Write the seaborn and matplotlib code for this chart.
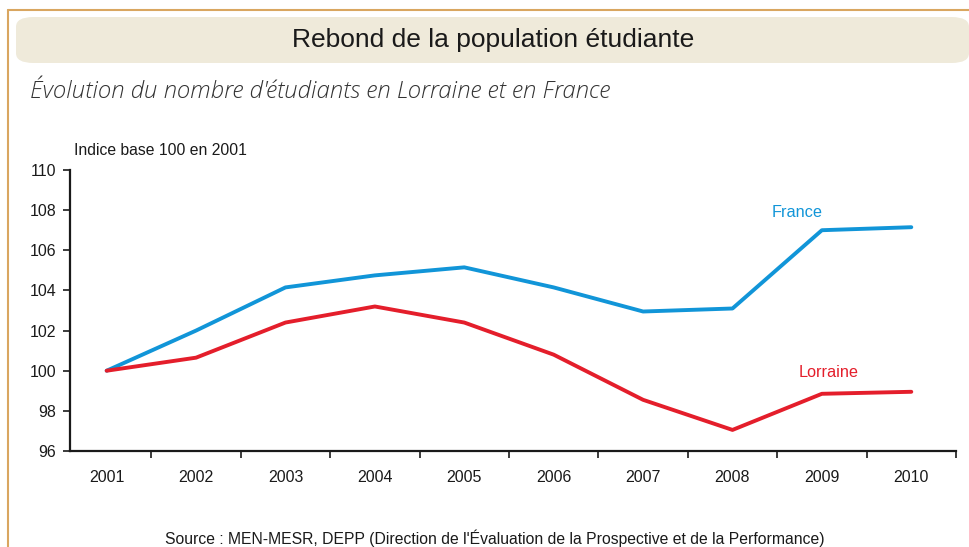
import numpy as np
import pandas as pd
import matplotlib
matplotlib.use("Agg")
import matplotlib.pyplot as plt
import seaborn as sns
from matplotlib.patches import FancyBboxPatch
from matplotlib.ticker import FixedLocator

# --- Data (index base 100 in 2001) ---
years = ["2001", "2002", "2003", "2004", "2005", "2006", "2007", "2008", "2009", "2010"]
france = [100.0, 102.0, 104.15, 104.75, 105.15, 104.15, 102.95, 103.1, 107.0, 107.15]
lorraine = [100.0, 100.65, 102.4, 103.2, 102.4, 100.8, 98.55, 97.05, 98.85, 98.95]
y_ticks = [96, 98, 100, 102, 104, 106, 108, 110]

BLUE = "#1195D8"
RED = "#E41E2B"
TAN = "#D9A660"
BOX = "#EFEADA"

sns.set_style("white")
plt.rcParams["font.family"] = ["Liberation Sans", "DejaVu Sans"]

df = pd.DataFrame({"pos": np.arange(len(years)), "France": france, "Lorraine": lorraine})

fig = plt.figure(figsize=(9.7, 5.47), dpi=100)

# outer frame (top and left lines) and title box
fig.add_artist(plt.Line2D([8.5 / 970, 1.0], [1 - 9.5 / 547] * 2, color=TAN, lw=1.5))
fig.add_artist(plt.Line2D([8.5 / 970] * 2, [0.0, 1 - 9.5 / 547], color=TAN, lw=1.5))
fig.add_artist(FancyBboxPatch((16 / 970, 1 - 63 / 547), 953 / 970, 46 / 547,
                              boxstyle="round,pad=0,rounding_size=0.018",
                              transform=fig.transFigure, facecolor=BOX, edgecolor="none"))
fig.text(493 / 970, 1 - 40 / 547, "Rebond de la population étudiante",
         ha="center", va="center", fontsize=19, color="#1a1a1a")
fig.text(30 / 970, 1 - 92 / 547, "Évolution du nombre d'étudiants en Lorraine et en France",
         ha="left", va="center", fontsize=17.3, color="#333333",
         family=["Open Sans", "DejaVu Sans"], style="italic", weight="light")
fig.text(74 / 970, 1 - 151 / 547, "Indice base 100 en 2001",
         ha="left", va="center", fontsize=11.3, color="#1a1a1a")
fig.text(495 / 970, 1 - 538 / 547,
         "Source : MEN-MESR, DEPP (Direction de l'Évaluation de la Prospective et de la Performance)",
         ha="center", va="center", fontsize=11.3, color="#1a1a1a")

ax = fig.add_axes([70 / 970, 1 - 451 / 547, 886 / 970, 281 / 547])
sns.lineplot(data=df, x="pos", y="France", ax=ax, color=BLUE, lw=2.8)
sns.lineplot(data=df, x="pos", y="Lorraine", ax=ax, color=RED, lw=2.8)

ax.text(7.72, 107.9, "France", color=BLUE, fontsize=11.7, ha="center", va="center")
ax.text(8.08, 99.9, "Lorraine", color=RED, fontsize=11.7, ha="center", va="center")

ax.set_xlim(-0.41, 9.5)
ax.set_ylim(96, 110)
ax.set_yticks(y_ticks)
ax.set_xticks(df["pos"])
ax.set_xticklabels(years)
ax.xaxis.set_minor_locator(FixedLocator(np.arange(len(years)) + 0.5))
ax.tick_params(axis="x", which="major", length=0, pad=14, labelsize=11.5, colors="#1a1a1a")
ax.tick_params(axis="x", which="minor", length=5, width=1.2, direction="out", bottom=True, color="#1a1a1a")
ax.tick_params(axis="y", which="major", length=5, width=1.2, direction="out", left=True,
               labelsize=11.5, colors="#1a1a1a", pad=5)
ax.set_xlabel("")
ax.set_ylabel("")
for side in ["top", "right"]:
    ax.spines[side].set_visible(False)
for side in ["left", "bottom"]:
    ax.spines[side].set_color("#1a1a1a")
    ax.spines[side].set_linewidth(1.6)
ax.set_facecolor("none")

fig.savefig("out.png", dpi=100, facecolor="white")
